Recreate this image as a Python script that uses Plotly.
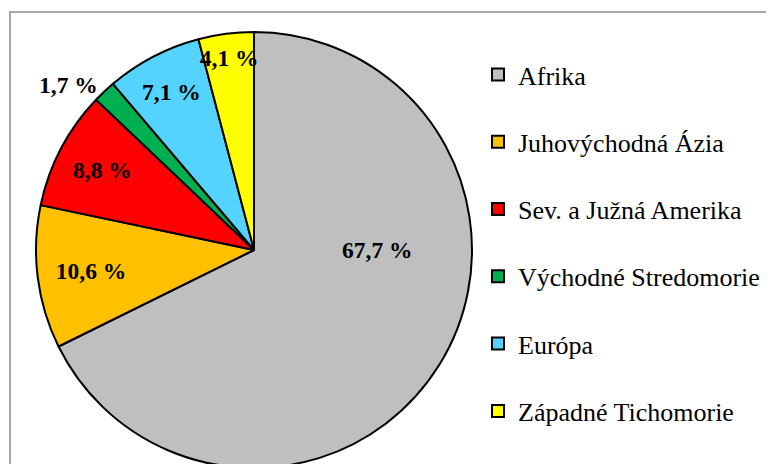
import plotly.graph_objects as go

categories = ["Afrika", "Juhovýchodná Ázia", "Sev. a Južná Amerika",
              "Východné Stredomorie", "Európa", "Západné Tichomorie"]
values = [67.7, 10.6, 8.8, 1.7, 7.1, 4.1]
colors = ["#BFBFBF", "#FFC000", "#FF0000", "#00B050", "#55D3FF", "#FFFF00"]

labels_txt = [f"{v:.1f}".replace(".", ",") + " %" for v in values]
SERIF = "Times New Roman, Liberation Serif, serif"

# page body has an 8px margin: figure coords = screen coords - 8
W, H = 766, 470
cx, cy, r = 246, 242, 218

pie_text = [""] + labels_txt[1:]   # largest slice label placed separately (Excel best-fit)

fig = go.Figure()
fig.add_trace(go.Pie(
    labels=categories, values=values, text=pie_text,
    textinfo="text", sort=False, direction="clockwise", rotation=0,
    marker=dict(colors=colors, line=dict(color="black", width=2)),
    textfont=dict(family=SERIF, size=23.5, color="black", weight="bold"),
    textposition=["inside", "inside", "inside", "outside", "inside", "inside"],
    insidetextorientation="horizontal",
    domain=dict(x=[(cx - r) / W, (cx + r) / W], y=[(H - cy - r) / H, (H - cy + r) / H]),
    showlegend=False, hoverinfo="label+percent",
))

for c, col in zip(categories, colors):
    fig.add_trace(go.Scatter(
        x=[None], y=[None], mode="markers", name=c, legendgroup=c,
        marker=dict(symbol="square", size=12, color=col, line=dict(color="black", width=2)),
        showlegend=True,
    ))

fig.add_annotation(x=(cx + 0.565 * r) / W, y=(H - cy) / H, xref="paper", yref="paper",
                   text=labels_txt[0], showarrow=False, xanchor="center", yanchor="middle",
                   font=dict(family=SERIF, size=23.5, color="black", weight="bold"))

fig.add_shape(type="rect", xref="paper", yref="paper",
              x0=2 / W, x1=1.05, y0=-0.05, y1=1 - 4 / H,
              line=dict(color="#A6A6A6", width=2), fillcolor="rgba(0,0,0,0)", layer="below")

fig.update_layout(
    width=W, height=H, margin=dict(l=0, r=0, t=0, b=0),
    paper_bgcolor="white", plot_bgcolor="white",
    xaxis=dict(visible=False), yaxis=dict(visible=False),
    uniformtext=dict(minsize=23.5, mode="show"),
    legend=dict(x=470 / W, y=1 - 43 / H, xanchor="left", yanchor="top",
                font=dict(family=SERIF, size=26, color="black"),
                tracegroupgap=30.5, bgcolor="rgba(0,0,0,0)"),
)

fig.write_html("out.html")
